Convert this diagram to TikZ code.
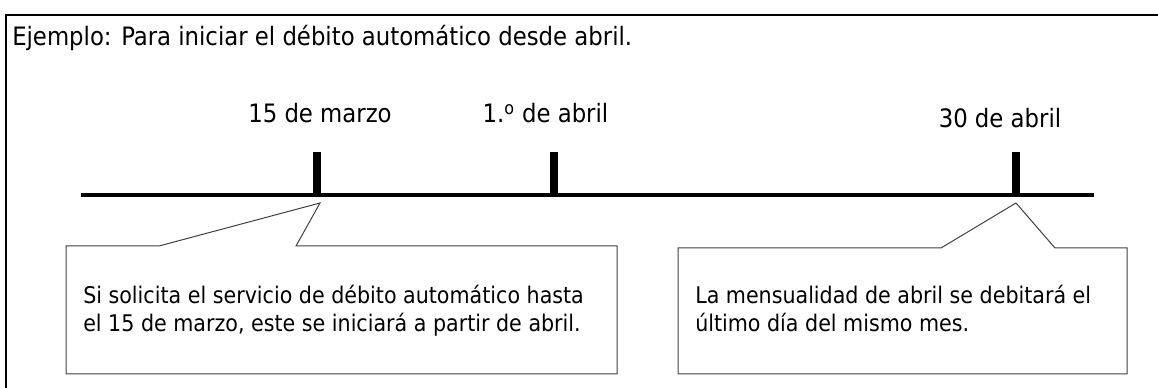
\documentclass[tikz,border=0pt]{standalone}
\usepackage{fontspec}
\setmainfont{DejaVu Sans Condensed}
\usetikzlibrary{positioning}

\begin{document}
\begin{tikzpicture}[
    x = 0.75pt,
    y = -0.75pt,
    font = \fontsize{19}{21}\selectfont,
    every node/.style = {inner sep=0pt, text=black},
    marco/.style = {line width=1.5pt},
    eje/.style = {line width=3.4pt},
    marca/.style = {line width=6pt},
    fecha/.style = {anchor=base},
    nota/.style = {anchor=base west, align=left, font=\fontsize{17.2}{21}\selectfont},
    globo/.style = {draw=black!75, line width=0.75pt, line join=miter}
]
    \useasboundingbox (0,0) rectangle (1158,388);

    \draw[marco] (6,390) -- (6,15) -- (1160,15);
    \node[anchor=base west] (titulo) at (12,46)
        {Ejemplo: Para iniciar el débito automático desde abril.};

    \coordinate (ini) at (81,195);
    \coordinate (fin) at (1094,195);
    \coordinate (t1) at (317,195);
    \coordinate (t2) at (553.5,195);
    \coordinate (t3) at (1015.5,195);

    \draw[eje] (ini) -- (fin);
    \draw[marca] (t1) -- ++(0,-43);
    \draw[marca] (t2) -- ++(0,-43);
    \draw[marca] (t3) -- ++(0,-43);

    \node[fecha] (marzo15) at (320,123) {15 de marzo};
    \node[fecha] (abril1) at (545.5,123) {1.\textsuperscript{o} de abril};
    \node[fecha] (abril30) at (1000,128) {30 de abril};

    % globos
    \draw[globo] (66,246) -- (159,246) -- (320,203) -- (296,246)
        -- (617,246) -- (617,374) -- (66,374) -- cycle;
    \draw[globo] (678,248) -- (941,248) -- (1016,203) -- (1055,248)
        -- (1127,248) -- (1127,374) -- (678,374) -- cycle;

    \node[nota] (nota1) at (83,332)
        {Si solicita el servicio de débito automático hasta\\
         el 15 de marzo, este se iniciará a partir de abril.};
    \node[nota] (nota2) at (695,332)
        {La mensualidad de abril se debitará el\\
         último día del mismo mes.};
\end{tikzpicture}
\end{document}
